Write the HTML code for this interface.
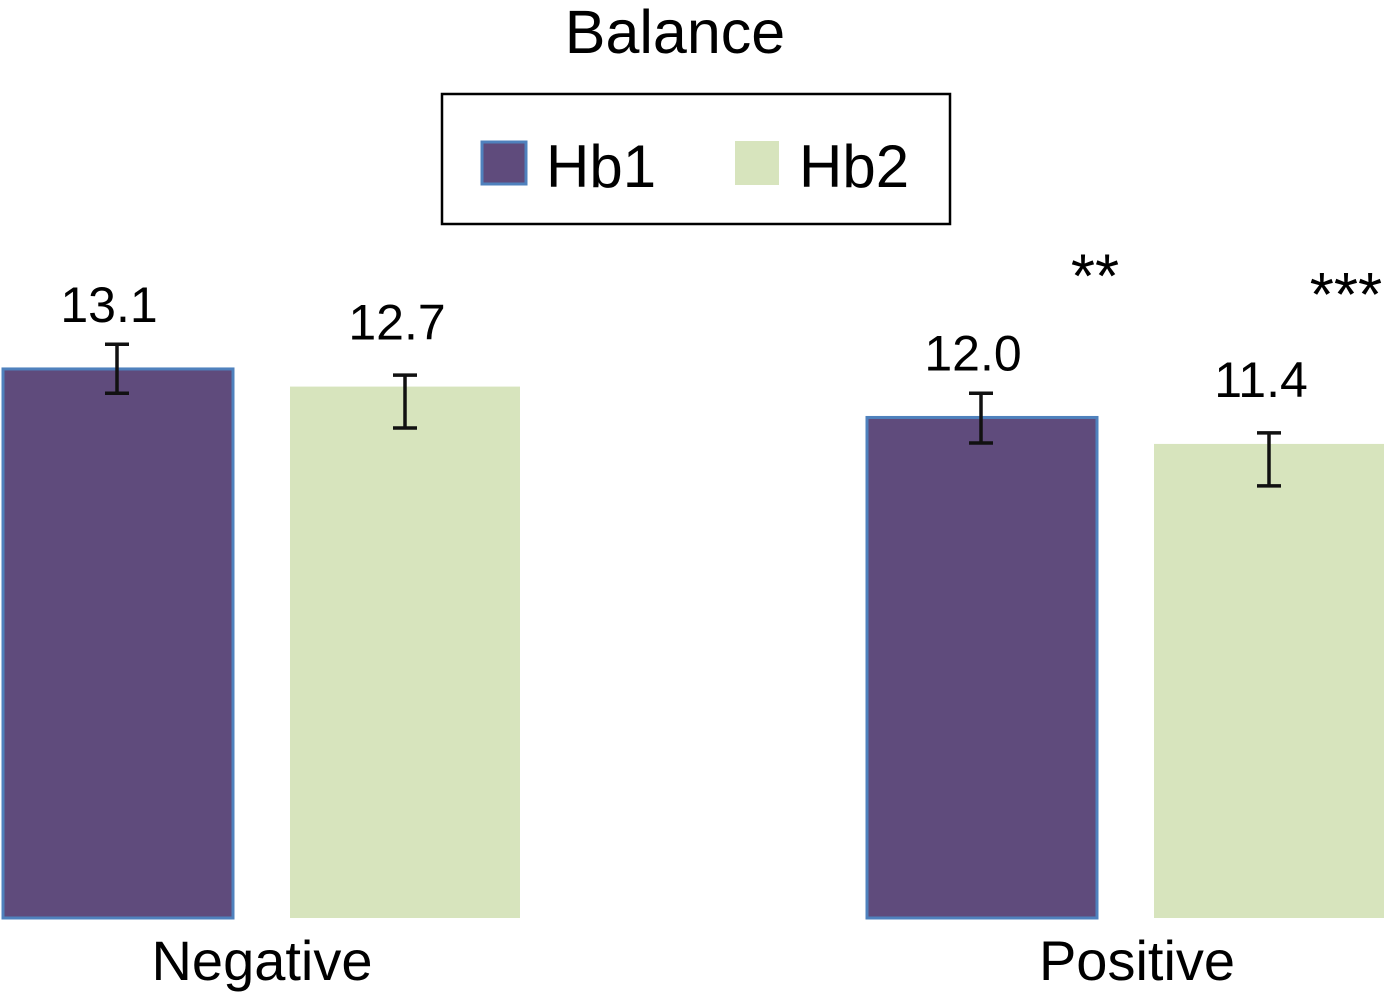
<!DOCTYPE html>
<html><head><meta charset="utf-8"><style>
html,body{margin:0;padding:0;background:#fff;}
svg{display:block;font-family:"Liberation Sans",Arial,sans-serif;}
</style></head><body>
<svg id="chart" width="1385" height="992" viewBox="0 0 1385 992">
<text x="675" y="53" font-size="61" text-anchor="middle">Balance</text>
<g>
<rect x="442" y="94" width="508" height="130" fill="#fff" stroke="#000" stroke-width="2.5"/>
<rect x="482" y="142" width="44" height="42" fill="#5f4b7c" stroke="#4f81bd" stroke-width="3"/>
<text x="546" y="187" font-size="60">Hb1</text>
<rect x="735" y="141" width="44" height="44" fill="#d7e4bd"/>
<text x="799" y="187" font-size="60">Hb2</text>
</g>
<g id="marks"></g>
</svg>
<script>
const categories = ["Negative", "Positive"];
const series = ["Hb1", "Hb2"];
const hb1Values = [13.1, 12.0];
const hb2Values = [12.7, 11.4];
const hb1ErrHigh = [13.66, 12.55];
const hb1ErrLow = [12.55, 11.42];
const hb2ErrHigh = [12.96, 11.65];
const hb2ErrLow = [11.76, 10.45];
const hb1Labels = ["13.1", "12.0"];
const hb2Labels = ["12.7", "11.4"];
const hb1Stars = ["", "**"];
const hb2Stars = ["", "***"];

const NS = "http://www.w3.org/2000/svg";
const g = document.getElementById("marks");
const base = 918, vmin = 0.65, ppu = 44.1;
function y(v){ return base - (v - vmin) * ppu; }
const groupX = [2, 866], barW = 230, gap = 58;
const catLabelX = [262, 1137];
function barX(ci, si){ return groupX[ci] + si * (barW + gap); }
function mk(tag, attrs){ const e = document.createElementNS(NS, tag); for (const k in attrs) e.setAttribute(k, attrs[k]); g.appendChild(e); return e; }

const vals = [hb1Values, hb2Values], hi = [hb1ErrHigh, hb2ErrHigh], lo = [hb1ErrLow, hb2ErrLow];
const labs = [hb1Labels, hb2Labels], stars = [hb1Stars, hb2Stars];
const fills = ["#5f4b7c", "#d7e4bd"];
categories.forEach((c, ci) => {
  series.forEach((s, si) => {
    const x = barX(ci, si), v = vals[si][ci], top = y(v);
    const r = mk("rect", {x: x + (si === 0 ? 1 : 0), y: top, width: barW, height: base - top, fill: fills[si]});
    if (si === 0) { r.setAttribute("stroke", "#4f81bd"); r.setAttribute("stroke-width", "3"); }
    
    
    const cx = x + barW / 2, yh = y(hi[si][ci]), yl = y(lo[si][ci]);
    const eb = mk("path", {d: `M${cx-12},${yh}H${cx+12}M${cx},${yh}V${yl}M${cx-12},${yl}H${cx+12}`, stroke: "#111", "stroke-width": 3.5, fill: "none"});
    
    
    const t = mk("text", {x: cx - 8, y: top - 47, "font-size": 50, "text-anchor": "middle"});
    t.textContent = labs[si][ci];
    
    
    if (stars[si][ci]) {
      const st = mk("text", {x: cx + 114 - (si === 1 ? 37 : 0), y: top - (si === 0 ? 120 : 128), "font-size": 62, "text-anchor": "middle"});
      st.textContent = stars[si][ci];
      
      
    }
  });
  const cl = mk("text", {x: catLabelX[ci], y: 980, "font-size": 56, "text-anchor": "middle"});
  cl.textContent = c;
  
  
});
</script>
</body></html>
